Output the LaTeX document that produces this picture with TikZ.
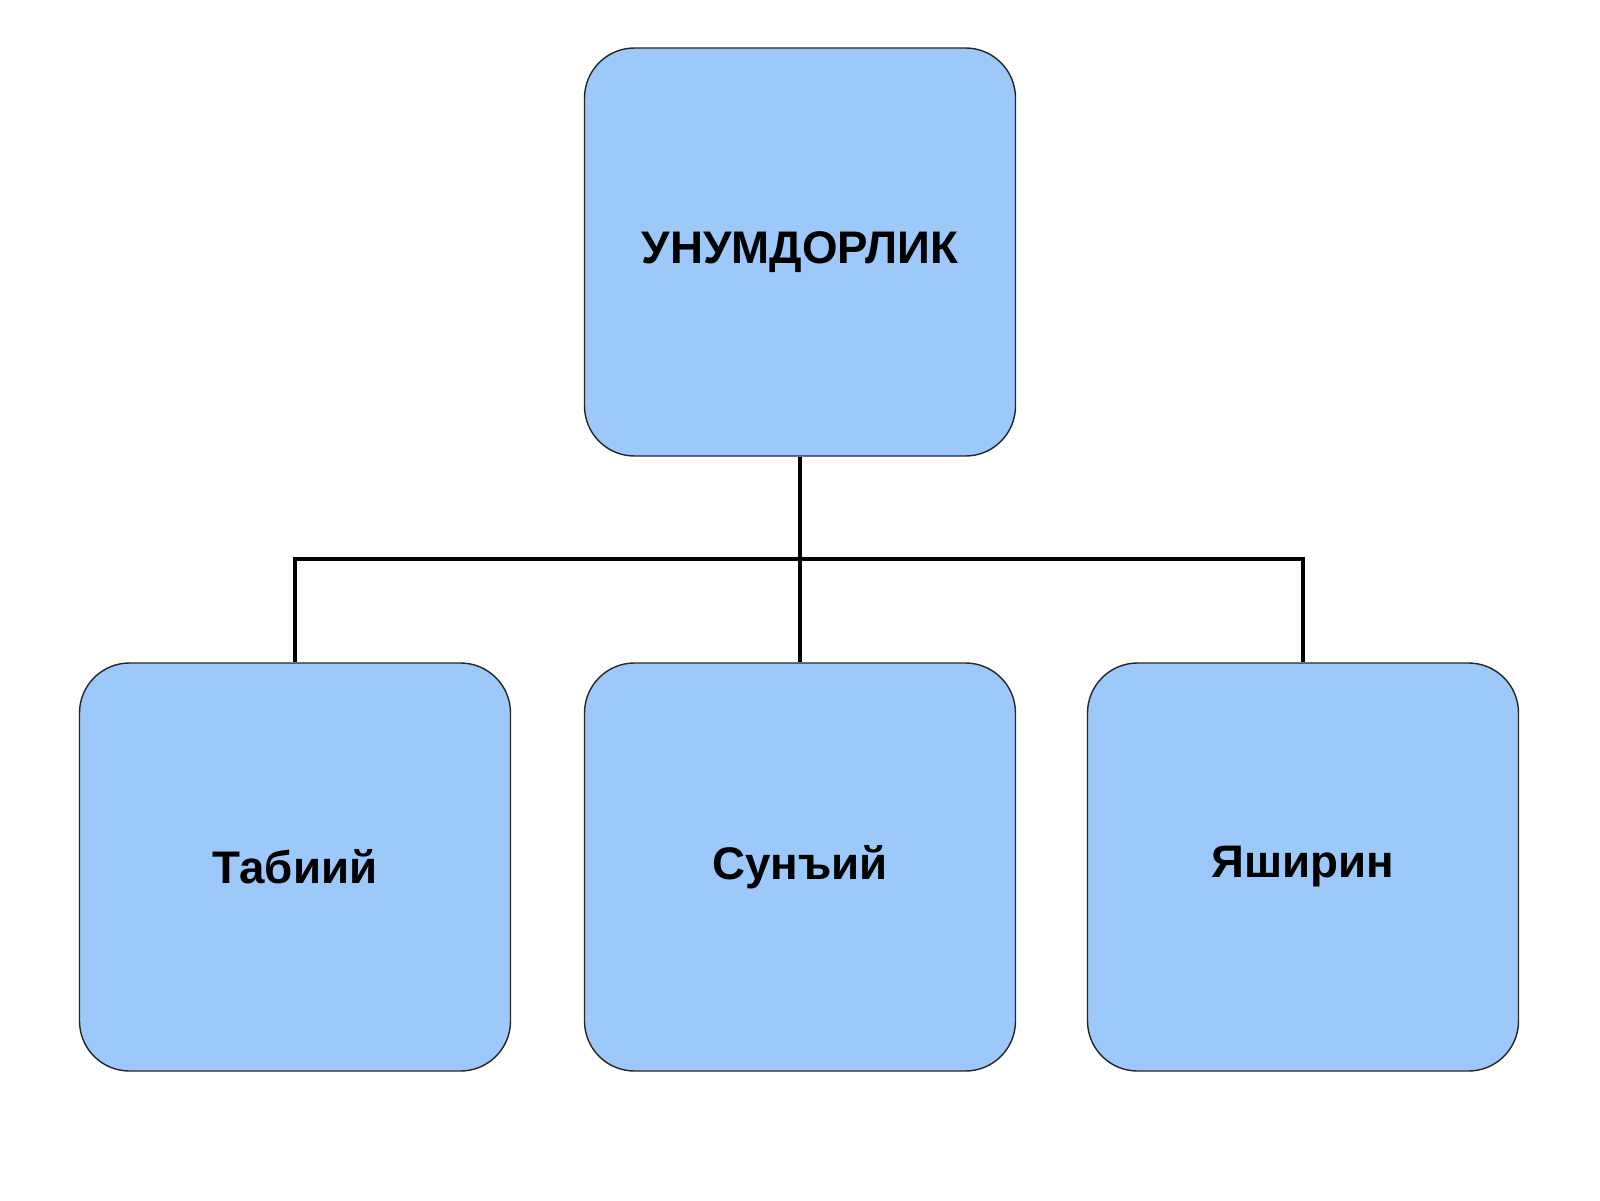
\documentclass[tikz,border=0pt]{standalone}
\usepackage{fontspec}
\setmainfont{Liberation Sans}
\definecolor{boxblue}{HTML}{9CC9FA}
\tikzset{
  box/.style={draw=black!85, fill=boxblue, rounded corners=0.5cm,
    minimum width=4.31cm, minimum height=4.08cm,
    font=\fontsize{13}{15}\selectfont\bfseries},
  link/.style={line width=1.2pt}
}
\begin{document}
\begin{tikzpicture}
  \useasboundingbox (0,0) rectangle (16,12);
  \node[box] (root) at (8,9.48) {УНУМДОРЛИК};
  \node[box] (nat) at (2.95,3.33) {Табиий};
  \node[box] (art) at (8,3.33) {Сунъий};
  \node[box] (hid) at (13.03,3.33) {Яширин};
  \coordinate (bus) at (8,6.41);
  \draw[link] (root.south) -- (bus);
  \foreach \n in {nat,art,hid}
    \draw[link] (bus) -| (\n.north);
\end{tikzpicture}
\end{document}
